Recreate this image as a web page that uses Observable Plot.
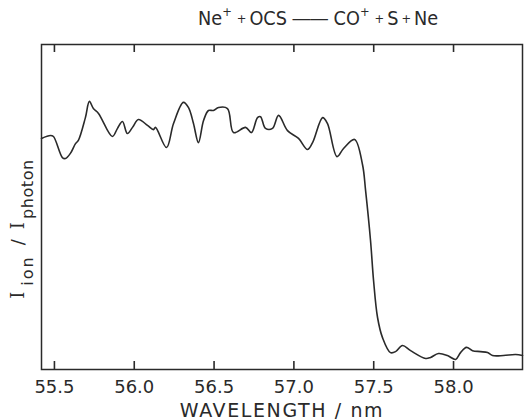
<!DOCTYPE html>
<html>
<head>
<meta charset="utf-8">
<script src="https://cdn.jsdelivr.net/npm/d3@7"></script>
<script src="https://cdn.jsdelivr.net/npm/@observablehq/plot@0.6"></script>
<style>
  html, body { margin: 0; padding: 0; background: #fff; }
  #wrap { width: 527px; font-family: "DejaVu Sans", sans-serif; color: #2a2a2a; }
  #title { height: 30px; position: relative; }
  #title .t { position: absolute; left: 198px; top: 9px; font-family: "DejaVu Sans Condensed", "DejaVu Sans", sans-serif; font-size: 20px; line-height: 20px; white-space: nowrap; }
  #title .p { font-size: 13px; padding: 0 3px; position: relative; top: -2px; }
  #title .s { font-size: 13px; position: relative; top: -9px; padding-right: 2px; }
</style>
</head>
<body>
<div id="wrap">
  <div id="title"><span class="t">Ne<span class="s">+</span><span class="p">+</span>OCS ―― CO<span class="s">+</span><span class="p">+</span>S<span class="p">+</span>Ne</span></div>
  <div id="chart"></div>
</div>
<script>
// Wavelength (nm) and relative ion yield (arbitrary units)
const wavelength = [55.419, 55.475, 55.494, 55.550, 55.569, 55.600, 55.632, 55.650, 55.694, 55.719,
  55.744, 55.776, 55.863, 55.895, 55.926, 55.957, 55.989, 56.026, 56.083, 56.120,
  56.133, 56.202, 56.246, 56.308, 56.340, 56.371, 56.402, 56.434, 56.465, 56.496,
  56.528, 56.584, 56.622, 56.697, 56.734, 56.772, 56.791, 56.822, 56.866, 56.904,
  56.960, 57.029, 57.085, 57.117, 57.180, 57.210, 57.270, 57.311, 57.380, 57.430,
  57.449, 57.480, 57.499, 57.524, 57.555, 57.605, 57.637, 57.680, 57.731, 57.825,
  57.856, 57.906, 57.962, 58.013, 58.044, 58.081, 58.119, 58.169, 58.213, 58.244,
  58.313, 58.389, 58.432];
const intensity = [0.711, 0.720, 0.717, 0.652, 0.649, 0.665, 0.695, 0.705, 0.775, 0.825,
  0.803, 0.788, 0.717, 0.742, 0.763, 0.726, 0.745, 0.769, 0.751, 0.738,
  0.745, 0.683, 0.757, 0.822, 0.806, 0.757, 0.698, 0.766, 0.797, 0.797,
  0.806, 0.803, 0.729, 0.745, 0.729, 0.775, 0.778, 0.742, 0.742, 0.782,
  0.735, 0.711, 0.677, 0.698, 0.775, 0.757, 0.655, 0.680, 0.708, 0.630,
  0.551, 0.397, 0.274, 0.160, 0.098, 0.052, 0.055, 0.074, 0.058, 0.034,
  0.037, 0.049, 0.043, 0.031, 0.052, 0.068, 0.058, 0.055, 0.052, 0.043,
  0.043, 0.046, 0.043];
const xTicks = [55.5, 56.0, 56.5, 57.0, 57.5, 58.0];
const xDomain = [55.419, 58.432];
const yDomain = [0, 1];
const xLabel = "WAVELENGTH / nm";

const ink = "#2a2a2a";
const plotH = 390, mTop = 14, mBottom = 51, tickLen = 8;
const innerH = plotH - mTop - mBottom;
// tick length expressed in y-scale units, so the scale places the ticks
const tickSpan = (yDomain[1] - yDomain[0]) * tickLen / innerH;

const chart = Plot.plot({
  width: 527,
  height: plotH,
  marginTop: mTop,
  marginBottom: mBottom,
  marginLeft: 41,
  marginRight: 5,
  style: { fontFamily: "DejaVu Sans, sans-serif", fontSize: "18px", color: ink, background: "#fff" },
  x: { domain: xDomain },
  y: { domain: yDomain },
  marks: [
    Plot.frame({ stroke: ink, strokeWidth: 1.5 }),
    Plot.axisX({ anchor: "bottom", ticks: xTicks, tickSize: 0, tickPadding: 11, tickFormat: d3.format(".1f"), label: null }),
    // inward tick marks on bottom and top edges
    Plot.ruleX(xTicks, { x: d => d, y1: () => yDomain[0], y2: () => yDomain[0] + tickSpan, stroke: ink, strokeWidth: 1.6 }),
    Plot.ruleX(xTicks, { x: d => d, y1: () => yDomain[1] - tickSpan, y2: () => yDomain[1], stroke: ink, strokeWidth: 1.6 }),
    Plot.axisY({ ticks: [], label: null }),
    Plot.line(intensity, { x: wavelength, y: intensity, curve: "catmull-rom", stroke: ink, strokeWidth: 1.6 })
  ]
});
document.getElementById("chart").appendChild(chart);

const svg = d3.select(chart);
// x-axis title
svg.append("text")
  .attr("x", 282).attr("y", 387)
  .attr("text-anchor", "middle")
  .attr("font-size", 19).attr("letter-spacing", 1.6)
  .attr("fill", ink)
  .text(xLabel);
// y-axis title with subscripts
const yl = svg.append("text")
  .attr("transform", "translate(24,199) rotate(-90)")
  .attr("text-anchor", "middle")
  .attr("font-size", 18)
  .attr("fill", ink);
yl.append("tspan").attr("font-family", "DejaVu Serif, serif").text("I");
yl.append("tspan").attr("font-size", 16).attr("dx", 6).attr("dy", 9).attr("letter-spacing", 2).text("ion");
yl.append("tspan").attr("dy", -9).attr("dx", 10).text("/");
yl.append("tspan").attr("dx", 10).attr("font-family", "DejaVu Serif, serif").text("I");
yl.append("tspan").attr("font-size", 16).attr("dx", 3).attr("dy", 9).attr("letter-spacing", 0.6).text("photon");

// fit title to the reference width
const t = document.querySelector("#title .t");
const w = t.getBoundingClientRect().width;
const k = 240 / w;
t.style.fontSize = (20 * k) + "px";
t.querySelectorAll(".p, .s").forEach(e => e.style.fontSize = (13 * k) + "px");
</script>
</body>
</html>
